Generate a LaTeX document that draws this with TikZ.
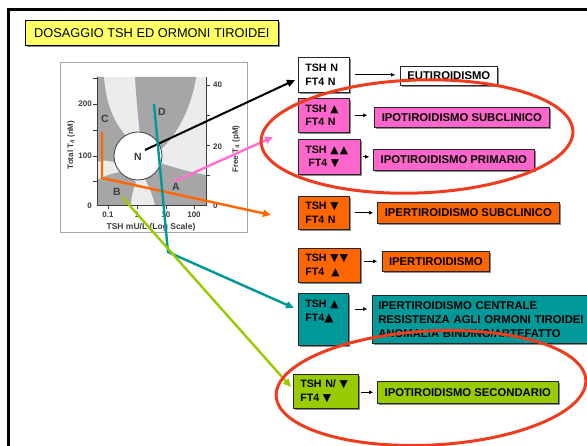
\documentclass[tikz,border=0pt]{standalone}
\usepackage{fontspec}
\setmainfont{Liberation Sans}
\newfontfamily\symf{DejaVu Sans}
\newcommand{\tup}{{\symf\bfseries ▲}}
\newcommand{\tdn}{{\symf\bfseries ▼}}
\usetikzlibrary{arrows.meta,shadows}
\definecolor{ttl}{RGB}{255,255,102}
\definecolor{mag}{RGB}{255,102,204}
\definecolor{org}{RGB}{255,102,0}
\definecolor{tealb}{RGB}{0,153,153}
\definecolor{limeb}{RGB}{153,204,0}
\definecolor{ellc}{RGB}{240,60,30}
\definecolor{lgray}{RGB}{236,236,236}
\definecolor{dgray}{RGB}{166,166,166}
\definecolor{ink}{RGB}{60,60,60}
\definecolor{pinkl}{RGB}{255,110,210}
\begin{document}
\begin{tikzpicture}[x=1pt,y=-1pt,
  shad/.style={drop shadow={shadow xshift=1.5pt,shadow yshift=-1.5pt,fill=black,opacity=0.45}},
  lbox/.style={draw=black!85,line width=0.6pt,anchor=north west,align=left,inner xsep=7pt,inner ysep=0pt,
    font=\fontsize{10.7}{13.3}\selectfont\bfseries,shad},
  rbox/.style={draw=black!85,line width=0.6pt,anchor=north west,inner sep=0pt,
    font=\fontsize{11.3}{14}\selectfont\bfseries,shad},
  sarrow/.style={-{Triangle[length=4pt,width=3.5pt]},line width=0.7pt},
  conn/.style={line width=2.4pt,-{Triangle[length=8pt,width=7pt]}},
  axl/.style={font=\fontsize{8}{9}\selectfont\bfseries,text=ink,inner sep=0pt},
  glbl/.style={font=\fontsize{10.5}{12}\selectfont\bfseries,text=ink,inner sep=0pt}]
\clip (0,0) rectangle (587,446);
\fill[white] (0,0) rectangle (587,446);
% slide frame
\draw[line width=2.5pt] (8.5,9.5) rectangle (640,480);
% title
\node[draw=black,line width=0.6pt,fill=ttl,anchor=north west,inner sep=0pt,minimum width=253pt,minimum height=25pt,
  font=\fontsize{12.8}{14}\selectfont,shad] (title) at (25,20) {DOSAGGIO TSH ED ORMONI TIROIDEI};
% graph
\draw[gray!70,line width=0.8pt,fill=white] (60,62) rectangle (247,232);
\fill[lgray] (97,77) rectangle (206,205);
\fill[dgray] (97,77) -- (104,77) .. controls (106,105) and (115,125) .. (128,138) -- (116,163)
  .. controls (108,160) and (102,160) .. (97,162) -- cycle;
\fill[dgray] (97,180) .. controls (105,176) and (115,172) .. (122,172) -- (136,182)
  .. controls (133,190) and (131,198) .. (131,205) -- (97,205) -- cycle;
\fill[dgray] (135,77) -- (196,77) .. controls (192,105) and (178,135) .. (160,150) -- (140,135)
  .. controls (138,115) and (136,95) .. (135,77) -- cycle;
\fill[dgray] (145,179) .. controls (150,188) and (153,197) .. (155,205) -- (206,205) -- (206,175)
  .. controls (190,172) and (175,168) .. (160,163) -- cycle;
\draw[ink,line width=0.6pt] (97,77) -- (97,205) -- (206,205) -- (206,77);
\foreach \yy in {78,104,130,156,181} \draw[ink,line width=0.6pt] (93,\yy) -- (97,\yy);
\foreach \yy in {85,115,145,175} \draw[ink,line width=0.6pt] (206,\yy) -- (210,\yy);
\foreach \xx in {108,137,166,194} \draw[ink,line width=0.6pt] (\xx,205) -- (\xx,209);
\draw[ink,line width=0.8pt,fill=white] (138,156) circle[radius=24];
\node[axl,anchor=east] (l200) at (92,104) {200};
\node[axl,anchor=east] (l100) at (92,156) {100};
\node[axl,anchor=east] (l0) at (92,206) {0};
\node[axl,anchor=west] (r40) at (213,85) {40};
\node[axl,anchor=west] (r20) at (213,147) {20};
\node[axl,anchor=west] (r0) at (213,206) {0};
\node[axl] (b01) at (108,215) {0.1};
\node[axl] (b1) at (137,215) {1};
\node[axl] (b10) at (166,215) {10};
\node[axl] (b100) at (194,215) {100};
\node[axl,font=\fontsize{8.5}{10}\selectfont\bfseries] (xlab) at (151,227) {TSH mU/L (Log Scale)};
\node[axl,rotate=90] (ylab) at (71,145) {Total T\textsubscript{4} (nM)};
\node[axl,rotate=90] (y2lab) at (236,149) {Free T\textsubscript{4} (pM)};
\node[glbl] (gC) at (105,119) {C};
\node[glbl] (gD) at (162,112) {D};
\node[glbl] (gN) at (138,157) {N};
\node[glbl] (gA) at (176,187) {A};
\node[glbl] (gB) at (117,192) {B};
% left boxes
\node[lbox,fill=white,text width=37pt,minimum height=35pt] (a) at (298,57) {TSH N\\FT4 N};
\node[lbox,fill=mag,text width=37pt,minimum height=34pt] (b) at (298,98) {TSH \tup\\FT4 N};
\node[lbox,fill=mag,text width=48pt,minimum height=35pt] (c) at (298,139) {TSH \tup\hspace{1.5pt}\tup\\\hspace*{3pt}FT4 \tdn};
\node[lbox,fill=org,text width=37pt,minimum height=33pt] (d) at (298,196) {TSH \tdn\\FT4 N};
\node[lbox,fill=org,text width=48pt,minimum height=34pt] (e) at (298,248) {TSH \tdn\hspace{1.5pt}\tdn\\FT4\hspace{7pt}\tup};
\node[lbox,fill=tealb,text width=36pt,minimum height=52pt] (f) at (298,293) {TSH \tup\\FT4{\large\tup}\\\strut};
\node[lbox,fill=limeb,text width=51pt,minimum height=34pt] (g) at (293,374) {TSH N/ \tdn\\FT4 \tdn};
% right boxes
\node[rbox,fill=white,minimum width=97pt,minimum height=19pt] (r1) at (400,66) {EUTIROIDISMO};
\node[rbox,fill=mag,minimum width=175pt,minimum height=20pt] (r2) at (374,107) {IPOTIROIDISMO SUBCLINICO};
\node[rbox,fill=mag,minimum width=161pt,minimum height=21pt] (r3) at (373,149) {IPOTIROIDISMO PRIMARIO};
\node[rbox,fill=org,minimum width=182pt,minimum height=21pt] (r4) at (377,202) {IPERTIROIDISMO SUBCLINICO};
\node[rbox,fill=org,minimum width=107pt,minimum height=20pt] (r5) at (382,251) {IPERTIROIDISMO};
\node[rbox,fill=tealb,align=left,text width=218pt,inner xsep=6pt,minimum height=48pt] (r6) at (372,295)
  {IPERTIROIDISMO CENTRALE\\RESISTENZA AGLI ORMONI TIROIDEI\\ANOMALIA BINDING/ARTEFATTO};
\node[rbox,fill=limeb,minimum width=181pt,minimum height=22pt] (r7) at (377,381) {IPOTIROIDISMO SECONDARIO};
% small arrows
\draw[sarrow,shorten <=5pt,shorten >=5pt] (a.east) -- (a.east -| r1.west);
\draw[sarrow,shorten <=5pt,shorten >=7pt] (b.east) -- (b.east -| r2.west);
\draw[sarrow,shorten <=2pt,shorten >=4pt] (c.east) -- (c.east -| r3.west);
\draw[sarrow,shorten <=5pt,shorten >=4pt] (d.east) -- (d.east -| r4.west);
\draw[sarrow,shorten <=3pt,shorten >=5pt] (e.east |- r5.west) -- (r5.west);
\draw[sarrow,shorten <=6pt,shorten >=5pt] (f.north east |- r6.north west) ++(0,14) coordinate (fa) -- (fa -| r6.west);
\draw[sarrow,shorten <=2pt,shorten >=4pt] (g.east |- r7.west) -- (r7.west);
% connectors from graph
\coordinate (kS) at (145,150); \coordinate (kE) at (295,80);
\coordinate (pS) at (173,182); \coordinate (pE) at (273,137);
\coordinate (oS) at (102,132); \coordinate (oM) at (102,178); \coordinate (oE) at (271,215);
\coordinate (tS) at (154,104); \coordinate (tM) at (168,252); \coordinate (tE) at (294,308);
\coordinate (gS) at (122,197); \coordinate (gE) at (291,387);
\draw[conn,line width=2pt,black] (kS) -- (kE);
\draw[conn,pinkl] (pS) -- (pE);
\draw[conn,org,line join=round] (oS) -- (oM) -- (oE);
\draw[conn,tealb,line join=round] (tS) -- (tM) -- (tE);
\draw[conn,limeb] (gS) -- (gE);
% red ellipses
\draw[ellc,line width=3pt,rotate around={2:(417,136.5)}] (417,136.5) ellipse[x radius=156,y radius=56.5];
\draw[ellc,line width=3pt,rotate around={3:(431,388)}] (431,388) ellipse[x radius=155,y radius=57];
\end{tikzpicture}
\end{document}
